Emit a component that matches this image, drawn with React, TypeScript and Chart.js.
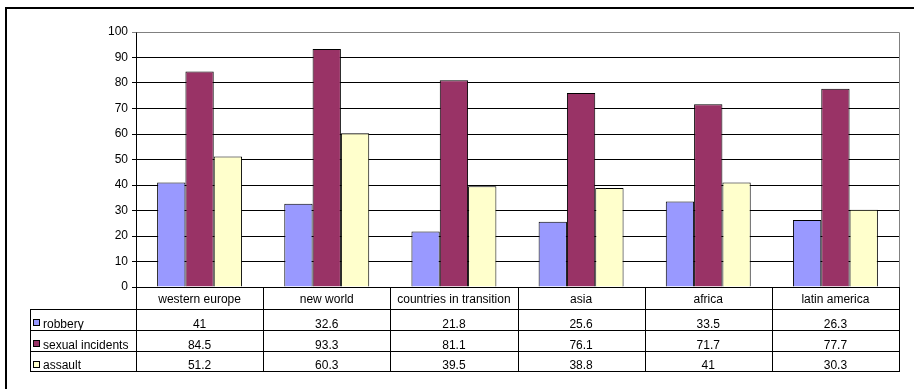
import React, { useEffect, useRef } from "react";
import { Chart, registerables } from "chart.js";

Chart.register(...registerables);

// Victimisation rates by region (percent)
const categories = [
  "western europe",
  "new world",
  "countries in transition",
  "asia",
  "africa",
  "latin america",
];
const robbery = [41, 32.6, 21.8, 25.6, 33.5, 26.3];
const sexualIncidents = [84.5, 93.3, 81.1, 76.1, 71.7, 77.7];
const assault = [51.2, 60.3, 39.5, 38.8, 41, 30.3];

const seriesNames = ["robbery", "sexual incidents", "assault"];
const seriesColors = ["#9999FF", "#993366", "#FFFFCC"];

const yMin = 0;
const yMax = 100;
const yStep = 10;

const FONT_FAMILY = "'Liberation Sans', Arial, sans-serif";
const FONT = `12px ${FONT_FAMILY}`;

// Draws the gray plot-area border, the data table under the axis and the outer frame.
const dataTablePlugin = {
  id: "dataTable",
  beforeDatasetsDraw(chart: any) {
    const { ctx, chartArea } = chart;
    ctx.save();
    ctx.strokeStyle = "#808080";
    ctx.lineWidth = 1;
    ctx.beginPath();
    ctx.moveTo(Math.round(chartArea.left) + 0.5, Math.round(chartArea.top) + 0.5);
    ctx.lineTo(Math.round(chartArea.right) + 0.5, Math.round(chartArea.top) + 0.5);
    ctx.lineTo(Math.round(chartArea.right) + 0.5, Math.round(chartArea.bottom) + 0.5);
    ctx.stroke();
    ctx.restore();
  },
  afterDraw(chart: any) {
    const { ctx, chartArea } = chart;
    const xScale = chart.scales.x;
    const n = categories.length;
    const left = Math.round(chartArea.left);
    const right = Math.round(chartArea.right);
    const top = Math.round(chartArea.bottom);
    const colW = (right - left) / n;
    const legendLeft = 30;
    const headerBottom = top + 22;
    const rowBottoms = [headerBottom + 21, headerBottom + 42, headerBottom + 62];
    const series = chart.data.datasets;

    ctx.save();
    ctx.strokeStyle = "#000";
    ctx.lineWidth = 1;
    ctx.beginPath();
    // vertical boundaries of category columns
    for (let i = 0; i <= n; i++) {
      const x = Math.round(left + i * colW) + 0.5;
      ctx.moveTo(x, top);
      ctx.lineTo(x, rowBottoms[2] + 0.5);
    }
    // left edge of legend column
    ctx.moveTo(legendLeft + 0.5, headerBottom + 0.5);
    ctx.lineTo(legendLeft + 0.5, rowBottoms[2] + 0.5);
    // horizontal row lines
    [headerBottom, ...rowBottoms].forEach((y) => {
      ctx.moveTo(legendLeft, y + 0.5);
      ctx.lineTo(right + 1, y + 0.5);
    });
    ctx.stroke();

    ctx.font = FONT;
    ctx.fillStyle = "#000";
    ctx.textBaseline = "alphabetic";
    ctx.textAlign = "center";
    categories.forEach((c, i) => {
      const cx = xScale.getPixelForValue(i);
      ctx.fillText(c, cx, headerBottom - 6, colW - 2);
    });

    series.forEach((ds: any, r: number) => {
      const rowBottom = rowBottoms[r];
      const rowTop = r === 0 ? headerBottom : rowBottoms[r - 1];
      ctx.textAlign = "center";
      ctx.fillStyle = "#000";
      ds.data.forEach((v: number, i: number) => {
        const cx = xScale.getPixelForValue(i);
        ctx.fillText(String(v), cx, rowBottom - 2);
      });
      // legend key
      ctx.fillStyle = ds.backgroundColor;
      ctx.fillRect(33, rowTop + 10, 7, 7);
      ctx.strokeStyle = "#000";
      ctx.strokeRect(33.5, rowTop + 10.5, 6, 6);
      ctx.fillStyle = "#000";
      ctx.textAlign = "left";
      ctx.fillText(ds.label, 43, rowBottom - 2);
    });

    // outer frame
    ctx.fillStyle = "#000";
    ctx.fillRect(5, 7, chart.width, 2);
    ctx.fillRect(5, 7, 2, chart.height);
    ctx.restore();
  },
};

export default function App() {
  const canvasRef = useRef<HTMLCanvasElement | null>(null);

  useEffect(() => {
    if (!canvasRef.current) return;
    const values = [robbery, sexualIncidents, assault];
    const chart = new Chart(canvasRef.current, {
      type: "bar",
      data: {
        labels: categories,
        datasets: values.map((d, i) => ({
          label: seriesNames[i],
          data: d,
          backgroundColor: seriesColors[i],
          borderColor: "#000",
          borderWidth: 1,
          categoryPercentage: 0.668,
          barPercentage: 1,
        })),
      },
      options: {
        responsive: false,
        animation: false,
        layout: { padding: { left: 0, right: 15, top: 32, bottom: 102 } },
        plugins: {
          legend: { display: false },
          tooltip: { enabled: false },
          title: { display: false },
        },
        scales: {
          x: {
            display: false,
            grid: { display: false },
          },
          y: {
            min: yMin,
            max: yMax,
            afterFit: (s: any) => {
              s.width = 136;
            },
            ticks: {
              stepSize: yStep,
              color: "#000",
              padding: 4,
              font: { family: FONT_FAMILY, size: 12 },
            },
            grid: {
              color: (c: any) => (c.tick && c.tick.value === yMax ? "#808080" : "#000"),
              lineWidth: 1,
              tickLength: 4,
              drawTicks: true,
            },
            border: { display: true, color: "#000", width: 1 },
          },
        },
      },
      plugins: [dataTablePlugin],
    });
    return () => chart.destroy();
  }, []);

  return (
    <div style={{ position: "absolute", left: 0, top: 0, width: 914, height: 389, background: "#fff" }}>
      <canvas ref={canvasRef} width={914} height={389} />
    </div>
  );
}
